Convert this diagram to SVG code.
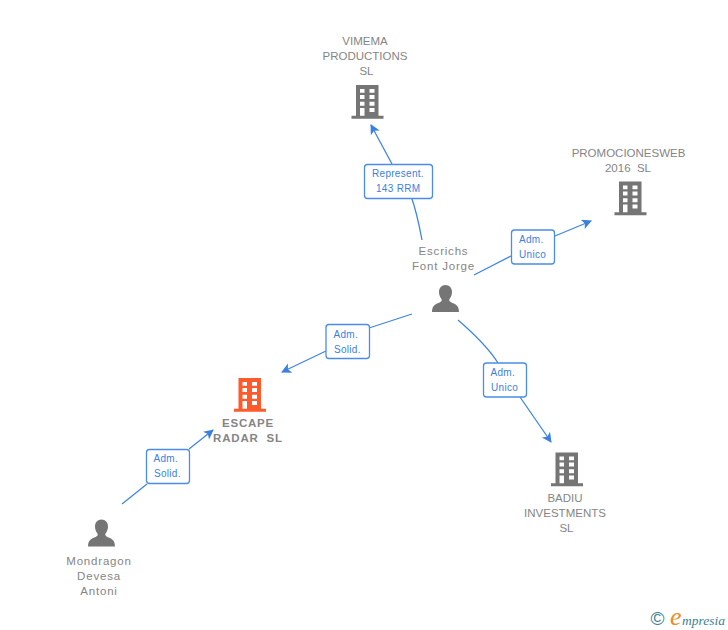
<svg xmlns="http://www.w3.org/2000/svg" width="728" height="630" viewBox="0 0 728 630">
<style>
.t{font-family:"Liberation Sans",Arial,sans-serif;font-size:11.5px;fill:#858585;text-anchor:middle;white-space:pre}
.s{letter-spacing:.8px}
.b{font-weight:bold}
.l{font-family:"Liberation Sans",Arial,sans-serif;font-size:10px;fill:#3b80e0;letter-spacing:.3px}
.c{fill:none;stroke:#3f86e4;stroke-width:1.3}
.box{fill:#fff;stroke:#4a8ce6;stroke-width:1.3}
.g{fill:#757575}
.o{fill:#ff5a2c}
</style>
<defs>
<marker id="a" markerWidth="12" markerHeight="12" refX="9" refY="5" orient="auto" markerUnits="userSpaceOnUse"><path d="M0 0L10 5L0 10L2.500 5Z" fill="#3b80e0"/></marker>
<path id="bld" fill-rule="evenodd" d="M4.500 0H27V30.700H32V33.700H0V30.700H4.500ZM8.500 4V7.700H13V4ZM18 4V7.700H23V4ZM8.500 10V14H13V10ZM18 10V14H23V10ZM8.500 16.700V20.700H13V16.700ZM18 16.700V20.700H23V16.700ZM8.500 23V30.700H13V23ZM18 23V27H23V23Z"/>
<path id="per" d="M13.500 0C17.500 0 20 3 20 7C20 10 18.800 12.500 17.500 14C17 15.500 17.500 16.500 19 17.200C23 19 27 20 27 27H0C0 20 4 19 8 17.200C9.500 16.500 10 15.500 9.500 14C8.200 12.500 7 10 7 7C7 3 9.500 0 13.500 0Z"/>
</defs>
<g id="connectors">
<path class="c" d="M422 240C419 224 415 207 411 196M392 164L371 125" marker-end="url(#a)"/>
<path class="c" d="M474 275L511 256M555 236L591 221" marker-end="url(#a)"/>
<path class="c" d="M412 314L369 328M326 351L282 372" marker-end="url(#a)"/>
<path class="c" d="M458 320C473 333 488 347 498 363M520 397L551 442" marker-end="url(#a)"/>
<path class="c" d="M122 504L147 484M189 449L213 430" marker-end="url(#a)"/>
</g>
<g id="n-vimema"><use href="#bld" class="g" x="351.500" y="85"/><text class="t" x="365" y="45">VIMEMA</text><text class="t" x="365" y="60">PRODUCTIONS</text><text class="t" x="366.500" y="75">SL</text></g>
<g id="n-promo"><use href="#bld" class="g" x="614.500" y="181.500"/><text class="t" x="628.500" y="157">PROMOCIONESWEB</text><text class="t" x="628" y="172">2016  SL</text></g>
<g id="n-escape"><use href="#bld" class="o" x="234" y="378"/><text class="t b s" x="248" y="427">ESCAPE</text><text class="t b s" x="248" y="442">RADAR  SL</text></g>
<g id="n-badiu"><use href="#bld" class="g" x="551" y="452.500"/><text class="t" x="565" y="502">BADIU</text><text class="t" x="565" y="517">INVESTMENTS</text><text class="t" x="566.500" y="532">SL</text></g>
<g id="n-escrichs"><use href="#per" class="g" x="432" y="285"/><text class="t s" x="443.500" y="255">Escrichs</text><text class="t s" x="443.500" y="270">Font Jorge</text></g>
<g id="n-mondragon"><use href="#per" class="g" x="88" y="519.500"/><text class="t s" x="99" y="565">Mondragon</text><text class="t s" x="99" y="580">Devesa</text><text class="t s" x="99" y="595">Antoni</text></g>
<g id="l-represent"><rect class="box" x="364.500" y="164.500" width="68" height="34" rx="3"/><text class="l" x="372" y="177">Represent.</text><text class="l" x="376" y="192">143 RRM</text></g>
<g id="l-unico1"><rect class="box" x="511.500" y="230" width="43" height="34" rx="3"/><text class="l" x="519" y="243">Adm.</text><text class="l" x="519" y="258">Unico</text></g>
<g id="l-solid1"><rect class="box" x="326" y="324.500" width="43.500" height="34" rx="3"/><text class="l" x="333.500" y="338">Adm.</text><text class="l" x="334" y="353">Solid.</text></g>
<g id="l-unico2"><rect class="box" x="483.500" y="363" width="43" height="34" rx="3"/><text class="l" x="490.500" y="376">Adm.</text><text class="l" x="491" y="391">Unico</text></g>
<g id="l-solid2"><rect class="box" x="146.500" y="449.500" width="43" height="34" rx="3"/><text class="l" x="153.500" y="462">Adm.</text><text class="l" x="154" y="477">Solid.</text></g>
<g id="logo"><text x="650.500" y="625" style="font-family:'Liberation Sans',sans-serif;font-size:19px;fill:#3c7f96">©</text><text x="670" y="625" style="font-family:'Liberation Serif',serif;font-style:italic;font-size:26px;fill:#f08a1d">e</text><text x="682" y="625" style="font-family:'Liberation Serif',serif;font-style:italic;font-size:13.500px;fill:#3c7f96">mpresia</text></g>
</svg>
